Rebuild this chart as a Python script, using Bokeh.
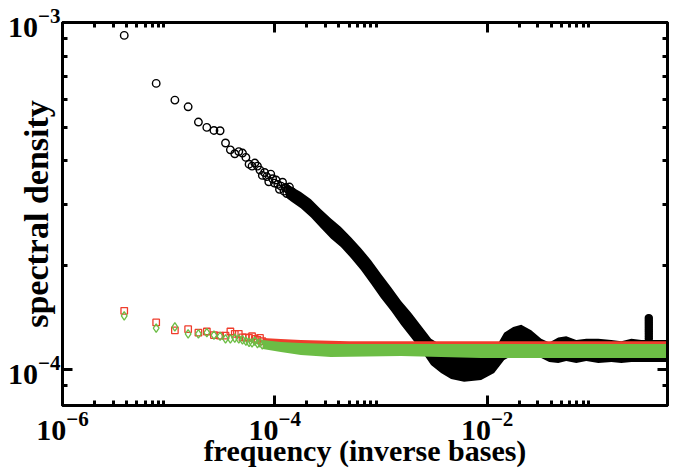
from bokeh.plotting import figure
from bokeh.models import LogAxis, FixedTicker, Range1d, CustomJSTickFormatter
from bokeh.embed import file_html
from bokeh.resources import INLINE

# ---------------- data ----------------
SEQ_LEN = 262144  # frequency of harmonic k is k / SEQ_LEN (inverse bases)

# black circles: low-frequency, individually visible points
black_k = list(range(1, 39))
black_psd = [9.18e-4, 6.68e-4, 5.98e-4, 5.72e-4, 5.17e-4, 4.99e-4, 4.89e-4, 4.88e-4, 4.50e-4, 4.30e-4,
             4.19e-4, 4.25e-4, 4.21e-4, 4.09e-4, 3.91e-4, 3.86e-4, 3.94e-4, 3.86e-4, 3.76e-4, 3.63e-4,
             3.70e-4, 3.60e-4, 3.48e-4, 3.66e-4, 3.55e-4, 3.45e-4, 3.52e-4, 3.42e-4, 3.31e-4, 3.38e-4,
             3.47e-4, 3.27e-4, 3.35e-4, 3.22e-4, 3.30e-4, 3.36e-4, 3.18e-4, 3.26e-4]

# black circles: dense cloud, upper / lower envelope
black_band_freq = [1.27e-4, 1.415e-4, 1.759e-4, 2.186e-4, 2.716e-4, 3.376e-4, 4.195e-4, 5.212e-4,
                   6.477e-4, 8.045e-4, 1.0e-3, 1.243e-3, 1.544e-3, 1.919e-3, 2.384e-3, 2.962e-3,
                   3.681e-3, 4.574e-3, 6.067e-3, 8.778e-3, 1.164e-2, 1.447e-2, 1.759e-2, 2.094e-2,
                   2.601e-2, 3.232e-2, 3.845e-2, 4.675e-2, 5.563e-2, 6.913e-2, 8.590e-2, 0.1115,
                   0.1479, 0.1837, 0.2284, 0.2836, 0.3929, 0.5]
black_band_hi = [3.45e-4, 3.38e-4, 3.25e-4, 3.10e-4, 2.90e-4, 2.73e-4, 2.58e-4, 2.41e-4,
                 2.24e-4, 2.07e-4, 1.89e-4, 1.73e-4, 1.58e-4, 1.46e-4, 1.34e-4, 1.23e-4,
                 1.18e-4, 1.157e-4, 1.126e-4, 1.126e-4, 1.14e-4, 1.28e-4, 1.33e-4, 1.35e-4,
                 1.30e-4, 1.23e-4, 1.20e-4, 1.24e-4, 1.25e-4, 1.22e-4, 1.23e-4, 1.23e-4,
                 1.22e-4, 1.21e-4, 1.23e-4, 1.22e-4, 1.22e-4, 1.22e-4]
black_band_lo = [3.14e-4, 3.06e-4, 2.92e-4, 2.75e-4, 2.56e-4, 2.39e-4, 2.26e-4, 2.10e-4,
                 1.94e-4, 1.77e-4, 1.61e-4, 1.48e-4, 1.35e-4, 1.24e-4, 1.14e-4, 1.033e-4,
                 9.80e-5, 9.42e-5, 9.24e-5, 9.36e-5, 9.80e-5, 1.068e-4, 1.104e-4, 1.126e-4,
                 1.104e-4, 1.082e-4, 1.054e-4, 1.047e-4, 1.061e-4, 1.047e-4, 1.061e-4, 1.047e-4,
                 1.054e-4, 1.047e-4, 1.054e-4, 1.054e-4, 1.054e-4, 1.054e-4]

# black peak at period 3
spike_freq = [0.33322, 0.33324, 0.33326, 0.33328, 0.33330, 0.33332, 0.33334, 0.33336, 0.33338, 0.33340]
spike_psd = [1.41e-4, 1.39e-4, 1.37e-4, 1.35e-4, 1.33e-4, 1.31e-4, 1.29e-4, 1.27e-4, 1.25e-4, 1.23e-4]

# red squares and green diamonds: low-frequency points
rg_k = list(range(1, 21))
red_psd = [1.48e-4, 1.37e-4, 1.30e-4, 1.31e-4, 1.28e-4, 1.29e-4, 1.26e-4, 1.255e-4, 1.255e-4, 1.29e-4,
           1.27e-4, 1.27e-4, 1.24e-4, 1.24e-4, 1.236e-4, 1.25e-4, 1.228e-4, 1.22e-4, 1.236e-4, 1.21e-4]
green_psd = [1.43e-4, 1.32e-4, 1.33e-4, 1.27e-4, 1.27e-4, 1.28e-4, 1.26e-4, 1.25e-4, 1.228e-4, 1.228e-4,
             1.234e-4, 1.228e-4, 1.22e-4, 1.21e-4, 1.20e-4, 1.196e-4, 1.21e-4, 1.19e-4, 1.196e-4, 1.18e-4]

# red / green dense clouds, envelopes
red_band_freq = [7.7e-5, 1.139e-4, 1.759e-4, 5.0e-4, 0.5]
red_band_hi = [1.236e-4, 1.228e-4, 1.22e-4, 1.21e-4, 1.21e-4]
red_band_lo = [1.149e-4, 1.149e-4, 1.142e-4, 1.134e-4, 1.134e-4]

green_band_freq = [7.7e-5, 1.139e-4, 1.759e-4, 3.376e-4, 1.544e-3, 8.778e-3, 0.5]
green_band_hi = [1.22e-4, 1.204e-4, 1.196e-4, 1.188e-4, 1.188e-4, 1.188e-4, 1.188e-4]
green_band_lo = [1.149e-4, 1.126e-4, 1.104e-4, 1.09e-4, 1.097e-4, 1.082e-4, 1.082e-4]

# ticks
x_major = [1e-6, 1e-4, 1e-2]
x_minor = [2e-6, 3e-6, 4e-6, 5e-6, 6e-6, 7e-6, 8e-6, 9e-6,
           2e-4, 3e-4, 4e-4, 5e-4, 6e-4, 7e-4, 8e-4, 9e-4,
           2e-2, 3e-2, 4e-2, 5e-2, 6e-2, 7e-2, 8e-2, 9e-2]
y_major = [1e-4, 1e-3]
y_minor = [9e-5, 2e-4, 3e-4, 4e-4, 5e-4, 6e-4, 7e-4, 8e-4, 9e-4]

black_freq = [k / SEQ_LEN for k in black_k]
rg_freq = [k / SEQ_LEN for k in rg_k]

# ---------------- figure ----------------
FONT = "Liberation Serif"
RED = "#ef3d2c"
GREEN = "#6cbd45"

p = figure(width=674, height=469, x_axis_type="log", y_axis_type="log",
           x_range=Range1d(1e-6, 0.5), y_range=Range1d(7.9e-5, 1e-3),
           output_backend="svg", toolbar_location=None,
           min_border_left=62, min_border_right=7, min_border_top=22, min_border_bottom=64)
p.grid.visible = False
p.outline_line_color = "black"
p.outline_line_width = 3
p.background_fill_color = "white"
p.border_fill_color = "white"

# black series
p.varea(x=black_band_freq, y1=black_band_lo, y2=black_band_hi, fill_color="black")
p.scatter(black_freq, black_psd, marker="circle", size=7.5, fill_color=None,
          line_color="black", line_width=1.4)
p.scatter(spike_freq, spike_psd, marker="circle", size=7, fill_color="black",
          line_color="black", line_width=1.4)

# red series
p.varea(x=red_band_freq, y1=red_band_lo, y2=red_band_hi, fill_color=RED)
p.scatter(rg_freq, red_psd, marker="square", size=6.5, fill_color=None,
          line_color=RED, line_width=1.3)

# green series
p.varea(x=green_band_freq, y1=green_band_lo, y2=green_band_hi, fill_color=GREEN)
p.scatter(rg_freq, green_psd, marker="diamond", size=8.5, fill_color=None,
          line_color=GREEN, line_width=1.3)


def style_axis(ax, ticker, show_labels):
    ax.ticker = ticker
    ax.axis_line_width = 3
    ax.axis_line_color = "black"
    ax.major_tick_in = 10
    ax.major_tick_out = 0
    ax.major_tick_line_width = 3
    ax.minor_tick_in = 5
    ax.minor_tick_out = 0
    ax.minor_tick_line_width = 3
    ax.major_label_text_font = FONT
    ax.major_label_text_font_style = "bold"
    ax.major_label_text_color = "black"
    ax.major_label_text_font_size = "30px"
    if not show_labels:
        ax.formatter = CustomJSTickFormatter(code="return ''")
        ax.major_label_standoff = 0


xt = FixedTicker(ticks=x_major, minor_ticks=x_minor)
yt = FixedTicker(ticks=y_major, minor_ticks=y_minor)

xa = p.xaxis[0]
ya = p.yaxis[0]
style_axis(xa, xt, True)
style_axis(ya, yt, True)
xa.major_label_standoff = 6
ya.major_label_standoff = 2

xa.axis_label = "frequency (inverse bases)"
ya.axis_label = "spectral density"
for ax in (xa, ya):
    ax.axis_label_text_font = FONT
    ax.axis_label_text_font_style = "bold"
    ax.axis_label_text_color = "black"
xa.axis_label_text_font_size = "30px"
ya.axis_label_text_font_size = "34px"
xa.axis_label_standoff = -9
ya.axis_label_standoff = -50

top = LogAxis()
style_axis(top, FixedTicker(ticks=x_major, minor_ticks=x_minor), False)
p.add_layout(top, "above")
right = LogAxis()
style_axis(right, FixedTicker(ticks=y_major, minor_ticks=y_minor), False)
p.add_layout(right, "right")

open("out.html", "w").write(file_html(p, INLINE))
